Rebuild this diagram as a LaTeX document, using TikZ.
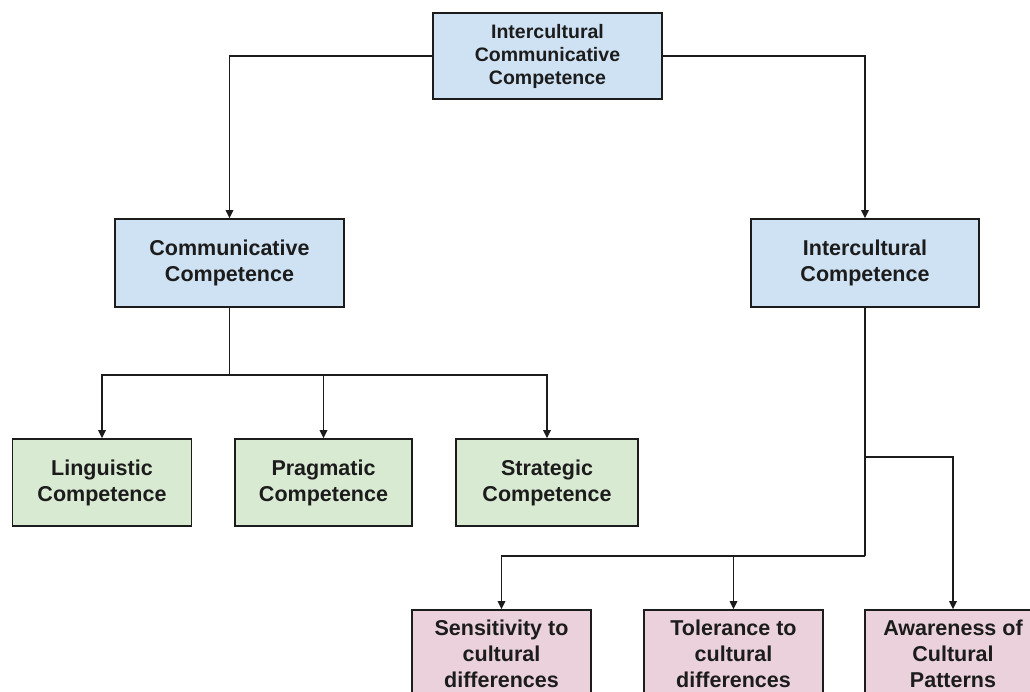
\documentclass[tikz,border=0pt]{standalone}
\usepackage{fontspec}
\setmainfont{Liberation Sans}
\usetikzlibrary{arrows.meta}
\definecolor{bluefill}{HTML}{CFE2F3}
\definecolor{greenfill}{HTML}{D9EAD3}
\definecolor{pinkfill}{HTML}{EAD1DC}
\definecolor{edge}{HTML}{1C1C1C}
\tikzset{
  box/.style={draw=edge, line width=1.7pt, align=center, inner sep=0pt,
    text=edge, font=\fontsize{21.5}{26}\selectfont\bfseries},
  bluebox/.style={box, fill=bluefill},
  greenbox/.style={box, fill=greenfill, minimum width=179pt, minimum height=87pt},
  pinkbox/.style={box, fill=pinkfill, minimum width=179pt, minimum height=88pt},
  conn/.style={draw=edge, line width=1.7pt},
  arr/.style={conn, -{Triangle[length=8pt,width=7.5pt]}}
}
\begin{document}
\begin{tikzpicture}[x=1pt,y=-1pt]
\useasboundingbox (0,0) rectangle (1030,691);
\clip (0,0) rectangle (1030,691);
\node[bluebox, minimum width=229pt, minimum height=86pt,
  font=\fontsize{19.5}{23}\selectfont\bfseries] (top) at (547.5,56)
  {Intercultural\\Communicative\\Competence};
\node[bluebox, minimum width=229pt, minimum height=88pt] (comm) at (229.5,263)
  {Communicative\\Competence};
\node[bluebox, minimum width=228pt, minimum height=88pt] (inter) at (865,263)
  {Intercultural\\Competence};
\node[greenbox] (ling) at (102,482.5) {Linguistic\\Competence};
\node[greenbox, minimum width=177pt] (prag) at (323.5,482.5) {Pragmatic\\Competence};
\node[greenbox, minimum width=182pt] (strat) at (547,482.5) {Strategic\\Competence};
\node[pinkbox] (sens) at (501.5,654) {Sensitivity to\\cultural\\differences};
\node[pinkbox] (tol) at (733.5,654) {Tolerance to\\cultural\\differences};
\node[pinkbox, minimum width=176pt] (aware) at (953,654) {Awareness of\\Cultural\\Patterns};
\coordinate (cj) at (229.5,375);
\coordinate (ij1) at (865,457);
\coordinate (ij2) at (865,556);
\draw[arr] (top.west) -| (comm.north);
\draw[arr] (top.east) -| (inter.north);
\draw[conn] (comm.south) -- (cj);
\draw[arr] (cj) -| (ling.north);
\draw[arr] (cj) -| (prag.north);
\draw[arr] (cj) -| (strat.north);
\draw[conn] (inter.south) -- (ij2);
\draw[arr] (ij1) -| (aware.north);
\draw[arr] (ij2) -| (sens.north);
\draw[arr] (ij2) -| (tol.north);
\end{tikzpicture}
\end{document}
